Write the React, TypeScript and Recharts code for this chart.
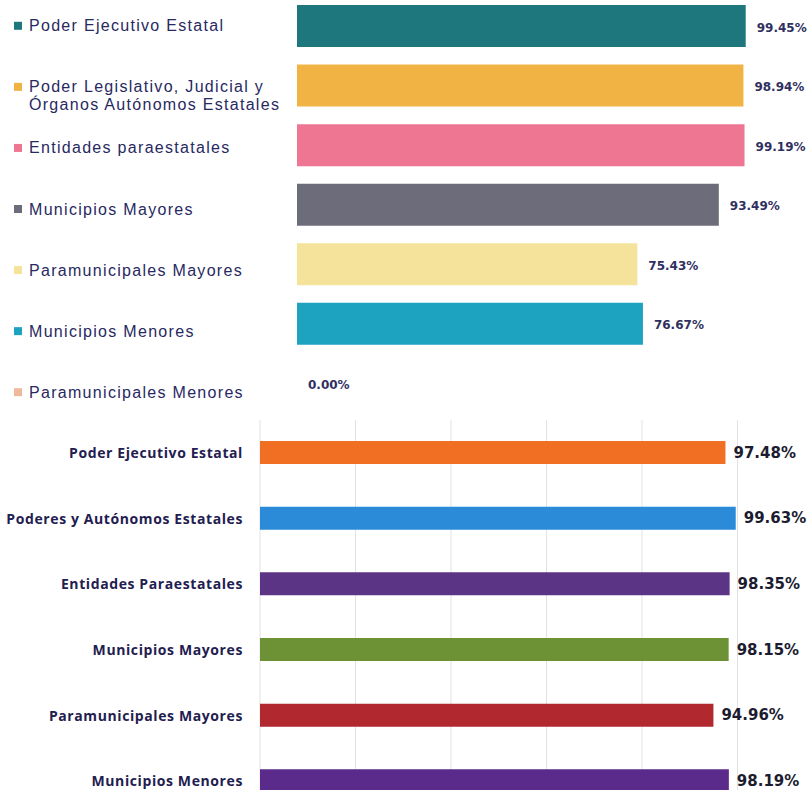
import React from 'react';
import { BarChart, Bar, XAxis, YAxis, CartesianGrid, Cell, LabelList } from 'recharts';

// top panel
const topCategories = [
  'Poder Ejecutivo Estatal',
  'Poder Legislativo, Judicial y\nÓrganos Autónomos Estatales',
  'Entidades paraestatales',
  'Municipios Mayores',
  'Paramunicipales Mayores',
  'Municipios Menores',
  'Paramunicipales Menores',
];
const topValues = [99.45, 98.94, 99.19, 93.49, 75.43, 76.67, 0];
const topColors = ['#1f777e', '#f2b345', '#ef7693', '#6c6c7a', '#f5e29b', '#1da2bf', '#f1b99b'];

// bottom panel
const bottomCategories = [
  'Poder Ejecutivo Estatal',
  'Poderes y Autónomos Estatales',
  'Entidades Paraestatales',
  'Municipios Mayores',
  'Paramunicipales Mayores',
  'Municipios Menores',
];
const bottomValues = [97.48, 99.63, 98.35, 98.15, 94.96, 98.19];
const bottomColors = ['#f06f22', '#2b8bd9', '#5b3486', '#6d9236', '#b1282f', '#5b2b8c'];
const xTicks = [0, 20, 40, 60, 80, 100];

const topData = topCategories.map((name, i) => ({ name, value: topValues[i] }));
const bottomData = bottomCategories.map((name, i) => ({ name, value: bottomValues[i] }));

const pct = (v: any) => Number(v).toFixed(2) + '%';

const TopTick = (props: any) => {
  const { y, payload, index } = props;
  const lines = String(payload.value).split('\n');
  // the scanned legend drifts a little downward from row to row
  const base = y + 5.5 + index * 1.5;
  return (
    <g>
      <rect x={14} y={base - 9.5} width={8} height={8} fill={topColors[index]} />
      <text x={29} y={base} fill="#28295f" fontSize={16} letterSpacing={1.3} fontFamily="'Liberation Sans', Arial, sans-serif">
        {lines.map((l, i) => (
          <tspan key={i} x={29} dy={i === 0 ? 0 : 18}>{l}</tspan>
        ))}
      </text>
    </g>
  );
};

const TopValueLabel = (props: any) => {
  const { x, y, width, height, value } = props;
  return (
    <text x={Number(x) + Number(width) + 11} y={Number(y) + Number(height) / 2 + 2} dominantBaseline="middle" fill="#2f3060" fontSize={12} fontWeight={700} fontFamily="'DejaVu Sans', Verdana, sans-serif">
      {pct(value)}
    </text>
  );
};

const BottomTick = (props: any) => {
  const { y, payload } = props;
  return (
    <text x={243} y={y + 5} textAnchor="end" fill="#1f2050" fontSize={14} letterSpacing={0.6} fontWeight={700} fontFamily="'Open Sans', sans-serif">
      {payload.value}
    </text>
  );
};

// a zero bar gets no rectangle (and so no label) unless it has some size
const zeroSize = (v: any) => (Number(v) === 0 ? 0.01 : 0);

export default function App() {
  return (
    <div style={{ position: 'absolute', left: 0, top: 0, width: 810, height: 790, overflow: 'hidden', background: '#fff' }}>
      <div style={{ position: 'absolute', left: 0, top: -4.3 }}>
        <BarChart width={810} height={417} data={topData} layout="vertical" margin={{ top: 0, right: 61.8, bottom: 0, left: 0 }}>
          <XAxis type="number" domain={[0, 100]} hide />
          <YAxis type="category" dataKey="name" width={297} axisLine={false} tickLine={false} tick={<TopTick />} interval={0} />
          <Bar dataKey="value" barSize={42} minPointSize={zeroSize} isAnimationActive={false}>
            {topData.map((d, i) => (
              <Cell key={d.name} fill={topColors[i]} />
            ))}
            <LabelList dataKey="value" content={<TopValueLabel />} />
          </Bar>
        </BarChart>
      </div>
      <div style={{ position: 'absolute', left: 0, top: 419.5 }}>
        <BarChart width={810} height={394} data={bottomData} layout="vertical" margin={{ top: 0, right: 72.5, bottom: 0, left: 0 }}>
          <CartesianGrid horizontal={false} stroke="#e2e2e2" />
          <XAxis type="number" domain={[0, 100]} ticks={xTicks} hide />
          <YAxis type="category" dataKey="name" width={260} axisLine={false} tickLine={false} tick={<BottomTick />} interval={0} />
          <Bar dataKey="value" barSize={23} isAnimationActive={false}>
            {bottomData.map((d, i) => (
              <Cell key={d.name} fill={bottomColors[i]} />
            ))}
            <LabelList dataKey="value" position="right" offset={8} formatter={pct} fill="#1c1c30" fontSize={15} fontWeight={700} fontFamily="'DejaVu Sans', Verdana, sans-serif" />
          </Bar>
        </BarChart>
      </div>
    </div>
  );
}
